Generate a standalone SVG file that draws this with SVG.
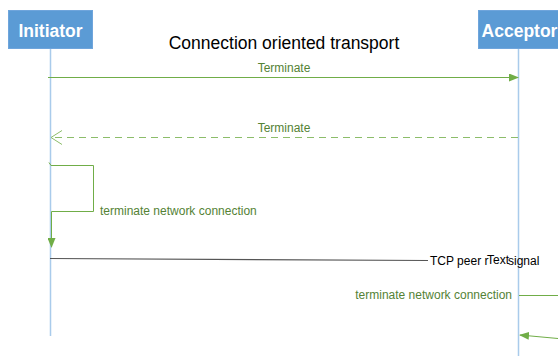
<svg xmlns="http://www.w3.org/2000/svg" width="558" height="358" viewBox="0 0 558 358">
<style>
.box{fill:#5b9bd5;stroke:#6fa5dc;stroke-width:1}
.hdr{font-family:"Liberation Sans","Open Sans",sans-serif;font-weight:bold;font-size:17.500px;fill:#fff;text-anchor:middle}
.life{stroke:#a9cbeb;stroke-width:1.5;fill:none}
.g{stroke:#70ad47;stroke-width:1;fill:none}
.gd{stroke:#8cbd6a;stroke-width:1;fill:none;stroke-dasharray:7,5}
.gl{font-family:"Liberation Sans","Open Sans",sans-serif;font-size:12px;fill:#548235}
.t{font-family:"Liberation Sans","Open Sans",sans-serif;font-size:12px;fill:#000}
</style>
<defs>
<marker id="fa" markerWidth="10" markerHeight="8" refX="9" refY="4" orient="auto" markerUnits="userSpaceOnUse"><path d="M0,0 L10,4 L0,8 Z" fill="#70ad47"/></marker>
<marker id="oa" markerWidth="12" markerHeight="16" refX="11" refY="8" orient="auto" markerUnits="userSpaceOnUse"><path d="M0,1 L11,8 L0,15" fill="none" stroke="#8cbd6a" stroke-width="1"/></marker>
</defs>
<g id="initiator">
<rect class="box" x="8.500" y="10.500" width="84" height="38"/>
<text class="hdr" x="50.500" y="37">Initiator</text>
<line class="life" x1="50.500" y1="49" x2="50.500" y2="336"/>
</g>
<g id="acceptor">
<rect class="box" x="478.500" y="10.500" width="84" height="38"/>
<text class="hdr" x="519.500" y="37">Acceptor</text>
<line class="life" x1="518.500" y1="49" x2="518.500" y2="356"/>
</g>
<g id="title">
<text x="284" y="48.500" font-family="Liberation Sans, Open Sans, sans-serif" font-size="17.500" text-anchor="middle" fill="#000">Connection oriented transport</text>
</g>
<g id="connectors">
<line class="g" x1="48" y1="77.500" x2="518" y2="77.500" marker-end="url(#fa)"/>
<text class="gl" x="284" y="72" text-anchor="middle">Terminate</text>
<line class="gd" x1="518" y1="137.500" x2="51" y2="137.500" marker-end="url(#oa)"/>
<text class="gl" x="284" y="132" text-anchor="middle">Terminate</text>
<path class="g" d="M49,162.500 L51,165.500 L93.500,165.500 L93.500,211.500 L51.500,211.500 L51.500,247" marker-end="url(#fa)"/>
<text class="gl" x="100" y="215">terminate network connection</text>
<line x1="50" y1="258.500" x2="428" y2="260.500" stroke="#555" stroke-width="1.200"/>
<text class="t" x="430" y="264.500">TCP peer r</text>
<text class="t" x="487" y="263.500" font-size="13">Text</text>
<text class="t" x="508" y="264.500">signal</text>
<line class="g" x1="519" y1="295.500" x2="558" y2="295.500"/>
<text class="gl" x="512" y="299" text-anchor="end">terminate network connection</text>
<line class="g" x1="558" y1="338.500" x2="520" y2="335" marker-end="url(#fa)"/>
</g>
</svg>
